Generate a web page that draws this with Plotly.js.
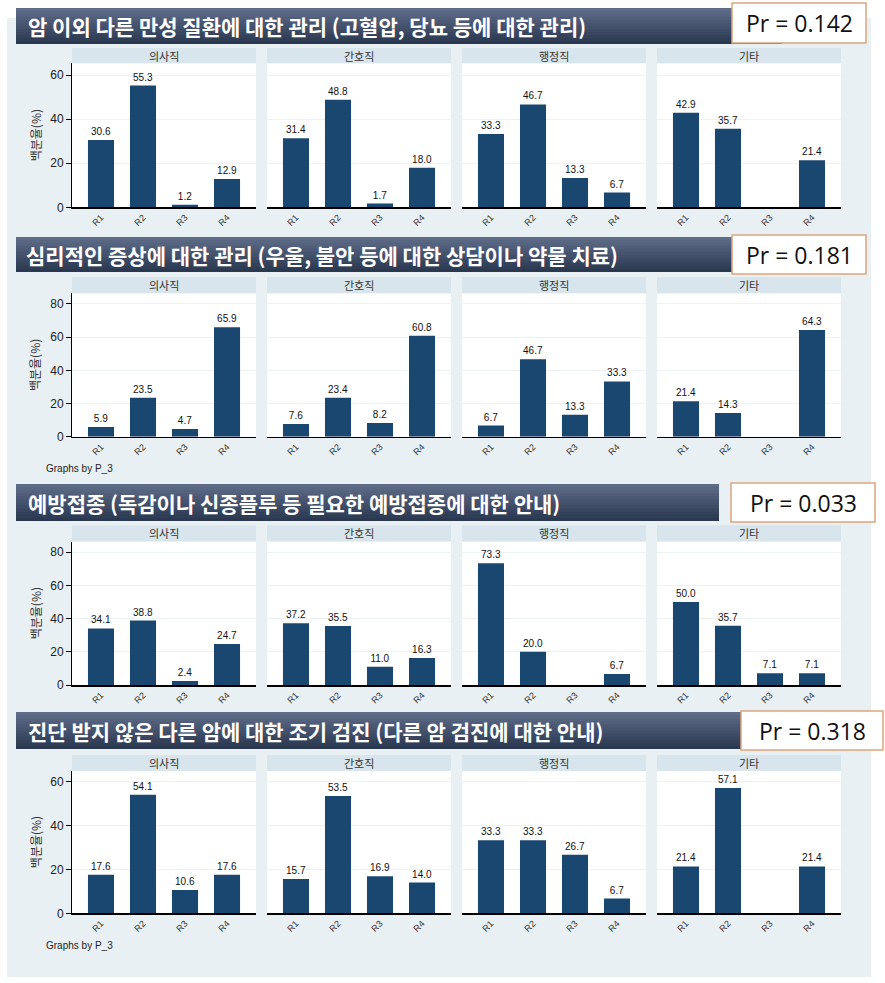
<!DOCTYPE html>
<html><head><meta charset="utf-8">
<script src="https://cdn.plot.ly/plotly-3.0.1.min.js"></script>
<style>html,body{margin:0;padding:0;background:#fff}#chart{width:885px;height:983px}</style>
</head><body><div id="chart"></div>
<script>
// ---- data ----
const categories = ['R1','R2','R3','R4'];
const groups = ['의사직','간호직','행정직','기타'];
const sectionTitles = [
  '암 이외 다른 만성 질환에 대한 관리 (고혈압, 당뇨 등에 대한 관리)',
  '심리적인 증상에 대한 관리 (우울, 불안 등에 대한 상담이나 약물 치료)',
  '예방접종 (독감이나 신종플루 등 필요한 예방접종에 대한 안내)',
  '진단 받지 않은 다른 암에 대한 조기 검진 (다른 암 검진에 대한 안내)'
];
const prValues = ['Pr = 0.142','Pr = 0.181','Pr = 0.033','Pr = 0.318'];
const s1_doctor = [30.6,55.3,1.2,12.9];
const s1_nurse  = [31.4,48.8,1.7,18.0];
const s1_admin  = [33.3,46.7,13.3,6.7];
const s1_other  = [42.9,35.7,null,21.4];
const s2_doctor = [5.9,23.5,4.7,65.9];
const s2_nurse  = [7.6,23.4,8.2,60.8];
const s2_admin  = [6.7,46.7,13.3,33.3];
const s2_other  = [21.4,14.3,null,64.3];
const s3_doctor = [34.1,38.8,2.4,24.7];
const s3_nurse  = [37.2,35.5,11.0,16.3];
const s3_admin  = [73.3,20.0,null,6.7];
const s3_other  = [50.0,35.7,7.1,7.1];
const s4_doctor = [17.6,54.1,10.6,17.6];
const s4_nurse  = [15.7,53.5,16.9,14.0];
const s4_admin  = [33.3,33.3,26.7,6.7];
const s4_other  = [21.4,57.1,null,21.4];
const yTicks1 = [0,20,40,60];
const yTicks2 = [0,20,40,60,80];

const sectionData = [
  [s1_doctor,s1_nurse,s1_admin,s1_other],
  [s2_doctor,s2_nurse,s2_admin,s2_other],
  [s3_doctor,s3_nurse,s3_admin,s3_other],
  [s4_doctor,s4_nurse,s4_admin,s4_other]
];
const sectionTicks = [yTicks1,yTicks2,yTicks2,yTicks1];

// ---- geometry (pixels) ----
const W=885,H=983;
const px = x=>x/W, py = y=>1-y/H;
const panelX = [[72,256],[267,451],[462,646],[657,841]];
const geo = [
  {strip:48,  top:63.3,  zero:207.3, ymax:65.4, tbox:[16,782,8,44],   tx:26, pr:[732,866,3,43],   gb:null},
  {strip:277, top:293.3, zero:436.7, ymax:86.4, tbox:[16,735,237,272], tx:24, pr:[732,866,235,274], gb:468},
  {strip:525.3,top:541.6,zero:685,   ymax:86.4, tbox:[16,719,484,521], tx:26, pr:[731,875,483,522], gb:null},
  {strip:755, top:771,   zero:913.3, ymax:64.9, tbox:[16,745,712,749], tx:26, pr:[741,883,711,750], gb:945}
];

const traces=[], shapes=[], annotations=[];
const layout = {
  width:W, height:H, margin:{l:0,r:0,t:0,b:0},
  paper_bgcolor:'#ffffff', plot_bgcolor:'rgba(0,0,0,0)',
  showlegend:false, font:{family:'Liberation Sans, Arial, sans-serif', color:'#222'}
};
// outer background
shapes.push({type:'rect',xref:'paper',yref:'paper',x0:px(7),x1:px(871),y0:py(977),y1:py(18),fillcolor:'#e9f0f3',line:{width:0},layer:'below'});

geo.forEach((g,s)=>{
  panelX.forEach((xr,p)=>{
    const n = s*4+p+1;
    const xa = n===1?'xaxis':'xaxis'+n, ya = n===1?'yaxis':'yaxis'+n;
    const xid = n===1?'x':'x'+n, yid = n===1?'y':'y'+n;
    shapes.push({type:'rect',xref:'paper',yref:'paper',x0:px(xr[0]),x1:px(xr[1]),y0:py(g.zero),y1:py(g.top),fillcolor:'#ffffff',line:{width:0},layer:'below'});
    shapes.push({type:'rect',xref:'paper',yref:'paper',x0:px(xr[0]),x1:px(xr[1]),y0:py(g.top),y1:py(g.strip),fillcolor:'#d8e5ed',line:{width:0},layer:'below'});
    annotations.push({xref:'paper',yref:'paper',x:px((xr[0]+xr[1])/2),y:py((g.strip+g.top)/2),text:groups[p],showarrow:false,
      font:{family:'Noto Sans CJK KR, sans-serif',size:11,color:'#333'},xanchor:'center',yanchor:'middle'});
    const vals = sectionData[s][p];
    traces.push({type:'bar',x:categories,y:vals,xaxis:xid,yaxis:yid,width:0.62,
      marker:{color:'#1a476f',line:{width:0}},
      text:vals.map(v=>v==null?'':v.toFixed(1)),textposition:'outside',cliponaxis:false,
      textfont:{size:10,color:'#111',family:'Liberation Sans, Arial, sans-serif'},hoverinfo:'skip'});
    layout[xa] = {domain:[px(xr[0]),px(xr[1])],anchor:yid,type:'category',range:[-0.69,3.69],
      tickangle:-45,tickfont:{size:9,color:'#333'},showline:true,linecolor:'#000',linewidth:1.5,
      showgrid:false,zeroline:false,ticks:'',fixedrange:true};
    layout[ya] = {domain:[py(g.zero),py(g.top)],anchor:xid,range:[0,g.ymax],tickvals:sectionTicks[s],
      showticklabels:p===0,showline:p===0,linecolor:'#000',linewidth:1,ticks:p===0?'outside':'',ticklen:5,tickcolor:'#000',
      tickfont:{size:12,color:'#222'},showgrid:true,gridcolor:'#edf2f5',gridwidth:1,zeroline:false,fixedrange:true};
  });
  annotations.push({xref:'paper',yref:'paper',x:px(35),y:py((g.top+g.zero)/2),text:'백분율(%)',textangle:-90,showarrow:false,
    font:{family:'Noto Sans CJK KR, sans-serif',size:12,color:'#333'},xanchor:'center',yanchor:'middle'});
  if(g.gb){
    annotations.push({xref:'paper',yref:'paper',x:px(44),y:py(g.gb),text:'Graphs by P_3',showarrow:false,
      font:{size:10,color:'#222'},xanchor:'left',yanchor:'middle'});
  }
  // title box with gradient (stacked overlapping bands)
  const [bx0,bx1,by0,by1] = g.tbox;
  const bands = 12;
  const c0=[94,108,136], c1=[42,56,80];
  for(let i=0;i<bands;i++){
    const t=i/(bands-1);
    const c=c0.map((v,k)=>Math.round(v+(c1[k]-v)*t));
    shapes.push({type:'rect',xref:'paper',yref:'paper',x0:px(bx0),x1:px(bx1),
      y0:py(by1),y1:py(by0+(by1-by0)*i/bands),
      fillcolor:`rgb(${c[0]},${c[1]},${c[2]})`,line:{width:0},layer:'above'});
  }
  const cy=(by0+by1)/2;
  annotations.push({xref:'paper',yref:'paper',x:px(g.tx),y:py(cy),text:'<b>'+sectionTitles[s]+'</b>',showarrow:false,
    font:{family:'Noto Sans CJK KR, sans-serif',size:21,color:'#ffffff'},xanchor:'left',yanchor:'middle'});
  // Pr box
  const [qx0,qx1,qy0,qy1]=g.pr;
  shapes.push({type:'rect',xref:'paper',yref:'paper',x0:px(qx0),x1:px(qx1),y0:py(qy1),y1:py(qy0),
    fillcolor:'#ffffff',line:{color:'#dda57c',width:1.5},layer:'above'});
  annotations.push({xref:'paper',yref:'paper',x:px((qx0+qx1)/2),y:py((qy0+qy1)/2),text:prValues[s],showarrow:false,
    font:{family:'Open Sans, Noto Sans, sans-serif',size:23,color:'#111'},xanchor:'center',yanchor:'middle'});
});

layout.shapes=shapes; layout.annotations=annotations;
Plotly.newPlot('chart',traces,layout,{staticPlot:true,displayModeBar:false});
</script></body></html>
